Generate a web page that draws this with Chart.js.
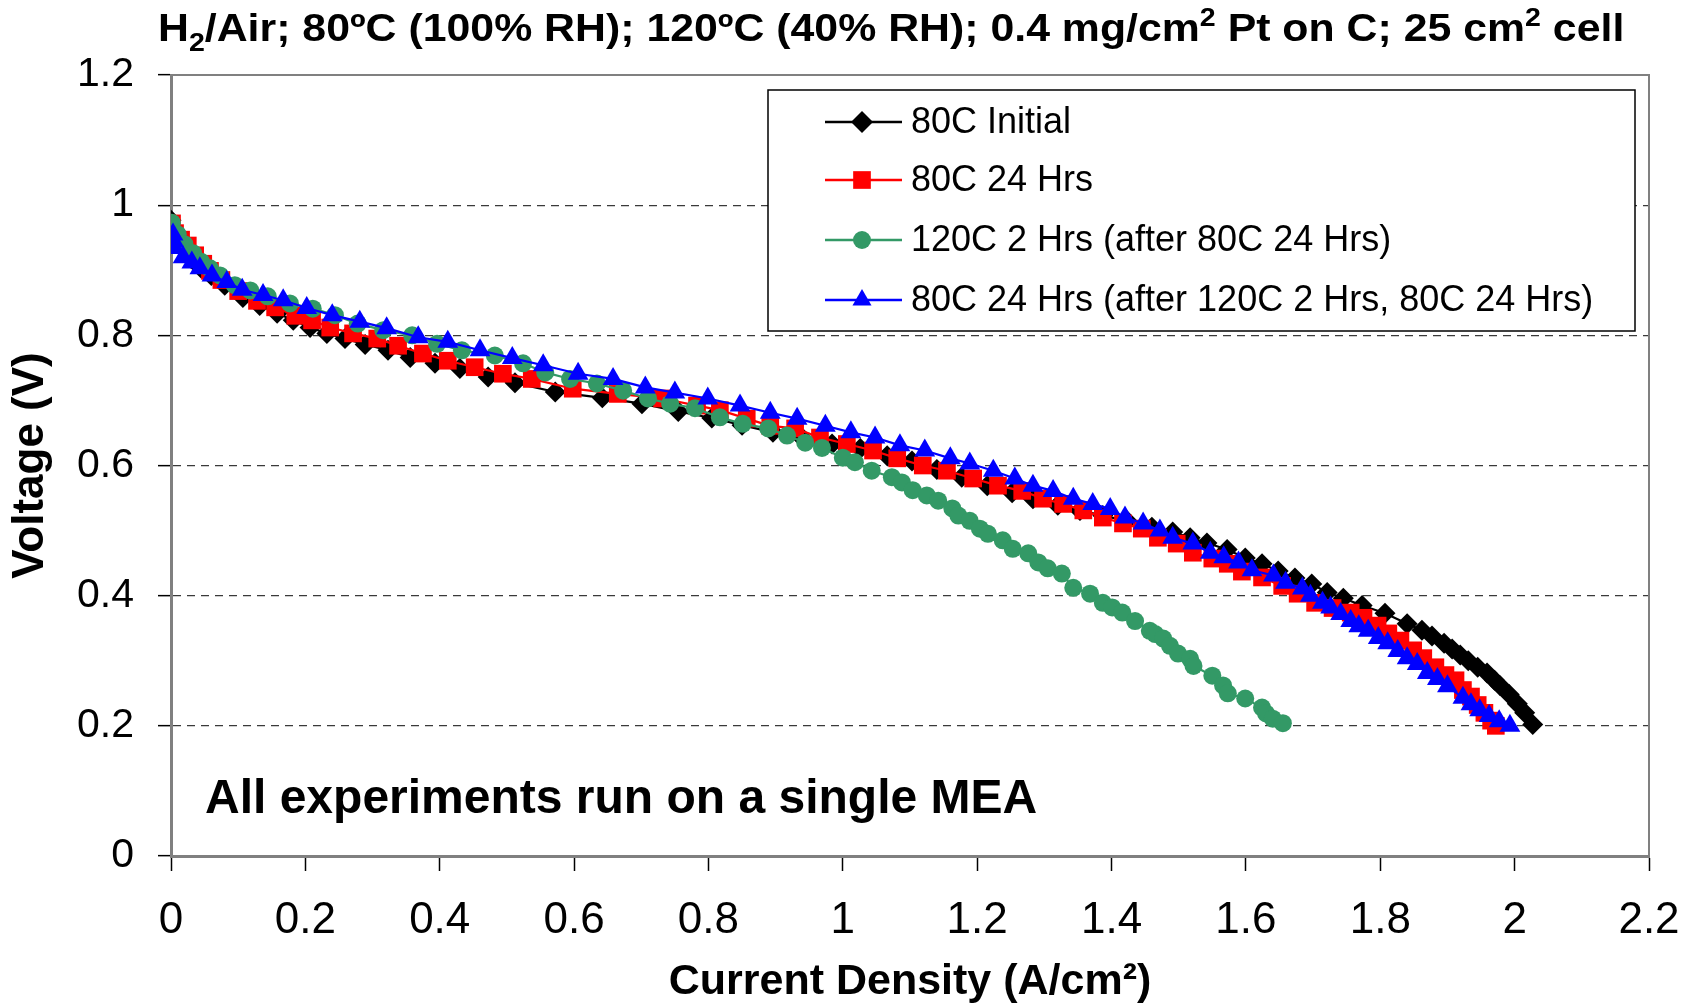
<!DOCTYPE html>
<html>
<head>
<meta charset="utf-8">
<script src="https://cdn.jsdelivr.net/npm/chart.js@4/dist/chart.umd.min.js"></script>
<style>
  html, body { margin: 0; padding: 0; background: #fff; }
  #wrap { width: 1696px; height: 1007px; }
</style>
</head>
<body>
<div id="wrap"><canvas id="polChart" width="1696" height="1007"></canvas></div>
<script>
// current density (A/cm2) and voltage (V) for each run
const initialI = [0,0.005,0.01,0.02,0.03,0.045,0.06,0.08,0.107,0.132,0.158,0.182,0.207,0.232,0.259,0.289,0.323,0.356,0.393,0.43,0.472,0.512,0.572,0.642,0.701,0.755,0.805,0.85,0.896,0.94,0.984,1.026,1.066,1.103,1.14,1.177,1.215,1.252,1.283,1.32,1.353,1.387,1.423,1.46,1.491,1.517,1.542,1.572,1.599,1.624,1.648,1.673,1.698,1.721,1.745,1.773,1.807,1.84,1.862,1.877,1.895,1.907,1.919,1.931,1.945,1.959,1.97,1.978,1.992,2.004,2.015,2.027];
const initialV = [0.977,0.962,0.948,0.932,0.918,0.903,0.892,0.877,0.858,0.846,0.834,0.823,0.812,0.803,0.795,0.786,0.777,0.766,0.757,0.749,0.736,0.727,0.713,0.704,0.695,0.683,0.673,0.662,0.651,0.642,0.633,0.626,0.615,0.607,0.594,0.582,0.569,0.558,0.549,0.539,0.531,0.523,0.515,0.505,0.498,0.489,0.481,0.471,0.458,0.449,0.438,0.427,0.418,0.405,0.396,0.385,0.373,0.357,0.347,0.338,0.327,0.318,0.309,0.300,0.290,0.281,0.270,0.262,0.248,0.234,0.220,0.202];

const hrs24I = [0.0015,0.006,0.015,0.025,0.036,0.048,0.058,0.075,0.1,0.128,0.155,0.185,0.21,0.237,0.271,0.307,0.338,0.375,0.412,0.452,0.494,0.537,0.598,0.665,0.731,0.783,0.817,0.857,0.892,0.929,0.966,1.006,1.045,1.081,1.119,1.155,1.194,1.231,1.267,1.298,1.328,1.358,1.387,1.417,1.445,1.469,1.497,1.521,1.55,1.573,1.594,1.624,1.654,1.677,1.703,1.729,1.756,1.775,1.796,1.812,1.83,1.849,1.864,1.882,1.897,1.912,1.923,1.935,1.945,1.955,1.965,1.972];
const hrs24V = [0.972,0.957,0.947,0.938,0.923,0.910,0.899,0.885,0.868,0.853,0.843,0.830,0.823,0.812,0.803,0.795,0.784,0.772,0.761,0.751,0.741,0.733,0.718,0.710,0.703,0.692,0.685,0.672,0.661,0.657,0.643,0.633,0.623,0.611,0.600,0.592,0.580,0.569,0.561,0.549,0.541,0.531,0.520,0.511,0.503,0.489,0.480,0.466,0.457,0.449,0.437,0.428,0.415,0.403,0.389,0.381,0.374,0.366,0.354,0.342,0.331,0.316,0.304,0.290,0.278,0.270,0.255,0.245,0.232,0.220,0.208,0.200];

const hot120I = [0.0015,0.01,0.02,0.033,0.045,0.058,0.073,0.095,0.118,0.144,0.177,0.211,0.244,0.278,0.316,0.359,0.396,0.433,0.482,0.524,0.557,0.594,0.634,0.673,0.710,0.743,0.780,0.817,0.851,0.889,0.917,0.944,0.969,1.000,1.018,1.043,1.073,1.088,1.104,1.125,1.142,1.163,1.172,1.189,1.204,1.216,1.238,1.253,1.276,1.291,1.305,1.326,1.343,1.368,1.387,1.401,1.416,1.435,1.457,1.465,1.477,1.487,1.499,1.517,1.522,1.55,1.566,1.573,1.599,1.624,1.63,1.640,1.655];
const hot120V = [0.973,0.955,0.940,0.926,0.913,0.903,0.892,0.877,0.869,0.860,0.849,0.841,0.831,0.818,0.808,0.800,0.787,0.777,0.769,0.757,0.743,0.733,0.726,0.715,0.703,0.695,0.688,0.674,0.664,0.657,0.646,0.635,0.627,0.612,0.605,0.592,0.582,0.574,0.562,0.554,0.546,0.534,0.523,0.515,0.503,0.495,0.485,0.472,0.465,0.451,0.442,0.434,0.412,0.403,0.389,0.382,0.374,0.361,0.346,0.341,0.334,0.323,0.311,0.303,0.292,0.277,0.262,0.250,0.242,0.228,0.219,0.211,0.204];

const afterI = [0.003,0.004,0.006,0.018,0.031,0.043,0.061,0.083,0.106,0.137,0.167,0.202,0.240,0.281,0.321,0.368,0.412,0.460,0.508,0.554,0.606,0.658,0.706,0.750,0.799,0.847,0.892,0.932,0.974,1.012,1.048,1.085,1.122,1.160,1.189,1.224,1.256,1.283,1.313,1.343,1.372,1.398,1.420,1.447,1.472,1.491,1.521,1.547,1.567,1.589,1.609,1.641,1.659,1.684,1.696,1.714,1.726,1.741,1.756,1.768,1.782,1.797,1.811,1.826,1.840,1.855,1.870,1.885,1.900,1.923,1.935,1.948,1.962,1.977,1.993];
const afterV = [0.955,0.945,0.934,0.920,0.912,0.903,0.892,0.882,0.870,0.862,0.854,0.842,0.831,0.821,0.811,0.797,0.790,0.777,0.765,0.754,0.741,0.733,0.720,0.712,0.703,0.692,0.681,0.672,0.661,0.651,0.643,0.631,0.623,0.611,0.603,0.592,0.580,0.569,0.561,0.549,0.541,0.533,0.520,0.511,0.500,0.489,0.480,0.466,0.459,0.451,0.439,0.431,0.420,0.411,0.400,0.389,0.382,0.372,0.361,0.353,0.346,0.335,0.327,0.315,0.304,0.295,0.281,0.272,0.261,0.243,0.233,0.224,0.215,0.207,0.200];

const seriesNames = ['80C Initial', '80C 24 Hrs', '120C 2 Hrs (after 80C 24 Hrs)', '80C 24 Hrs (after 120C 2 Hrs, 80C 24 Hrs)'];
const seriesColors = ['#000000', '#ff0000', '#339966', '#0000ff'];
const seriesMarkers = ['rectRot', 'rect', 'circle', 'triangle'];
const markerSizes = [10.5, 12.5, 9, 12];

const xTicks = [0, 0.2, 0.4, 0.6, 0.8, 1, 1.2, 1.4, 1.6, 1.8, 2, 2.2];
const yTicks = [0, 0.2, 0.4, 0.6, 0.8, 1, 1.2];

const FONT = '"Liberation Sans", Arial, sans-serif';

const pairs = (xs, ys) => xs.map((x, i) => ({ x: x, y: ys[i] }));
const allI = [initialI, hrs24I, hot120I, afterI];
const allV = [initialV, hrs24V, hot120V, afterV];

const datasets = seriesNames.map((name, k) => ({
    label: name,
    data: pairs(allI[k], allV[k]),
    showLine: true,
    borderColor: seriesColors[k],
    backgroundColor: seriesColors[k],
    borderWidth: 2.2,
    pointStyle: seriesMarkers[k],
    pointRadius: markerSizes[k],
    pointBorderWidth: 0,
    tension: 0,
    order: 3 - k
}));

// marker shapes for the legend
function marker(ctx, style, x, y, r) {
    ctx.beginPath();
    if (style === 'rectRot') {
        ctx.moveTo(x, y - r); ctx.lineTo(x + r, y); ctx.lineTo(x, y + r); ctx.lineTo(x - r, y);
    } else if (style === 'rect') {
        const s = r * Math.SQRT1_2;
        ctx.rect(x - s, y - s, 2 * s, 2 * s);
    } else if (style === 'circle') {
        ctx.arc(x, y, r, 0, Math.PI * 2);
    } else {
        ctx.moveTo(x, y - r);
        ctx.lineTo(x + r * Math.sqrt(3) / 2, y + r / 2);
        ctx.lineTo(x - r * Math.sqrt(3) / 2, y + r / 2);
    }
    ctx.closePath();
    ctx.fill();
}

const decorations = {
    id: 'decorations',
    afterDraw(chart) {
        const ctx = chart.ctx;
        const a = chart.chartArea;
        ctx.save();

        // plot frame, top and right
        ctx.strokeStyle = '#808080';
        ctx.lineWidth = 2;
        ctx.beginPath();
        ctx.moveTo(a.left, a.top);
        ctx.lineTo(a.right, a.top);
        ctx.lineTo(a.right, a.bottom);
        ctx.stroke();

        // title with sub/superscripts, a little wider than the font
        const parts = [
            ['H', 0], ['2', 1], ['/Air; 80\u00baC (100% RH); 120\u00baC (40% RH); 0.4 mg/cm', 0],
            ['2', -1], [' Pt on C; 25 cm', 0], ['2', -1], [' cell', 0]
        ];
        ctx.save();
        ctx.translate(158, 41);
        ctx.scale(1.098, 1);
        let tx = 0;
        ctx.fillStyle = '#000';
        ctx.textBaseline = 'alphabetic';
        ctx.textAlign = 'left';
        parts.forEach(([t, s]) => {
            ctx.font = 'bold ' + (s ? 26 : 39) + 'px ' + FONT;
            ctx.fillText(t, tx, s === 1 ? 10 : s === -1 ? -15 : 0);
            tx += ctx.measureText(t).width;
        });
        ctx.restore();

        // note in the plot
        ctx.fillStyle = '#000';
        ctx.font = 'bold 48px ' + FONT;
        ctx.textBaseline = 'middle';
        ctx.textAlign = 'left';
        ctx.fillText('All experiments run on a single MEA', 205, 800);

        // legend box
        const lx = 768, ly = 90, lw = 867, lh = 241;
        ctx.fillStyle = '#fff';
        ctx.fillRect(lx, ly, lw, lh);
        ctx.strokeStyle = '#000';
        ctx.lineWidth = 1.5;
        ctx.strokeRect(lx, ly, lw, lh);
        const rowY = [122, 180, 240, 300];
        seriesNames.forEach((name, k) => {
            const y = rowY[k];
            ctx.strokeStyle = seriesColors[k];
            ctx.lineWidth = 2.5;
            ctx.beginPath();
            ctx.moveTo(825, y);
            ctx.lineTo(902, y);
            ctx.stroke();
            ctx.fillStyle = seriesColors[k];
            marker(ctx, seriesMarkers[k], 862, y, k === 1 ? 12.5 : k === 2 ? 9 : 11);
            ctx.fillStyle = '#000';
            ctx.font = '36px ' + FONT;
            ctx.fillText(name, 911, y + 1);
        });
        ctx.restore();
    }
};

const fmt = (v) => String(Math.round(v * 10) / 10);

const ctx = document.getElementById('polChart').getContext('2d');
new Chart(ctx, {
    type: 'scatter',
    data: { datasets: datasets },
    options: {
        responsive: false,
        animation: false,
        devicePixelRatio: 1,
        layout: { padding: { left: 0, right: 47, top: 75, bottom: 0 } },
        plugins: {
            legend: { display: false },
            title: { display: false },
            tooltip: { enabled: false }
        },
        scales: {
            x: {
                type: 'linear',
                min: 0,
                max: 2.2,
                afterBuildTicks: (s) => { s.ticks = xTicks.map(v => ({ value: v })); },
                afterFit: (s) => { s.height = 151; s.paddingLeft = 0; s.paddingRight = 0; },
                ticks: {
                    callback: fmt,
                    color: '#000',
                    font: { family: FONT, size: 44 },
                    padding: 23,
                    maxRotation: 0,
                    autoSkip: false
                },
                grid: {
                    drawOnChartArea: false,
                    drawTicks: true,
                    tickLength: 15,
                    tickColor: '#000',
                    tickWidth: 1.5
                },
                border: { color: '#808080', width: 3 },
                title: {
                    display: true,
                    text: 'Current Density (A/cm\u00b2)',
                    color: '#000',
                    font: { family: FONT, size: 43, weight: 'bold' },
                    padding: { top: 0, bottom: -1 }
                }
            },
            y: {
                type: 'linear',
                min: 0,
                max: 1.2,
                afterBuildTicks: (s) => { s.ticks = yTicks.map(v => ({ value: v })); },
                afterFit: (s) => { s.width = 171; s.paddingTop = 0; s.paddingBottom = 0; },
                ticks: {
                    callback: fmt,
                    color: '#000',
                    font: { family: FONT, size: 41 },
                    padding: 24,
                    autoSkip: false
                },
                grid: {
                    color: (c) => (c.tick && (c.tick.value === 0 || c.tick.value >= 1.2)) ? 'rgba(0,0,0,0)' : '#3a3a3a',
                    lineWidth: 1.3,
                    drawTicks: true,
                    tickLength: 13,
                    tickColor: '#000',
                    tickWidth: 1.5
                },
                border: { color: '#808080', width: 3, dash: [8, 6] },
                title: {
                    display: true,
                    text: 'Voltage (V)',
                    color: '#000',
                    font: { family: FONT, size: 44, weight: 'bold' },
                    padding: { top: 4, bottom: 0 }
                }
            }
        }
    },
    plugins: [decorations]
});
</script>
</body>
</html>
